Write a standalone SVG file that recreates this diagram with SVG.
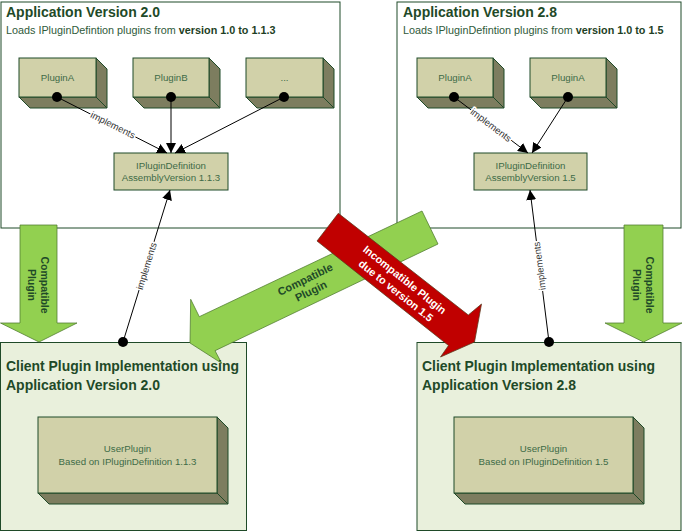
<svg xmlns="http://www.w3.org/2000/svg" width="682" height="532" viewBox="0 0 682 532">
<style>
.frame{fill:#fff;stroke:#1F4A28;stroke-width:1}
.client{fill:#E9F0DC;stroke:#1F4A28;stroke-width:1}
.front{fill:#D1D1A9;stroke:#1F4A28;stroke-width:1}
.side{fill:#7D7D5F;stroke:#1F4A28;stroke-width:1;stroke-linejoin:round}
.title{font-family:"Liberation Sans",Arial,sans-serif;font-weight:bold;font-size:14px;fill:#1F4A28}
.sub{font-family:"Liberation Sans",Arial,sans-serif;font-size:10.8px;fill:#2F5A3A}
.sub tspan.b{font-weight:bold;fill:#1E3F25}
.node{font-family:"Liberation Sans",Arial,sans-serif;font-size:9.7px;fill:#3E6B47;text-anchor:middle}
.lbl{font-family:"Liberation Sans",Arial,sans-serif;font-size:9.5px;fill:#333;text-anchor:middle;stroke:#fff;stroke-width:3;paint-order:stroke;stroke-linejoin:round}
.conn{stroke:#000;stroke-width:1;fill:none;marker-end:url(#ah)}
.dot{fill:#000}
.garrow{fill:#92D050;stroke:#4E7A2E;stroke-width:0.75}
.rarrow{fill:#C00000;stroke:#5A3A1E;stroke-width:0.75}
.gtxt{font-family:"Liberation Sans",Arial,sans-serif;font-weight:bold;font-size:10.5px;fill:#1F4A28;text-anchor:middle}
.rtxt{font-family:"Liberation Sans",Arial,sans-serif;font-weight:bold;font-size:10.8px;fill:#fff;text-anchor:middle}
</style>
<defs>
<marker id="ah" viewBox="0 0 10 10" refX="10" refY="5" markerWidth="10" markerHeight="10" orient="auto" markerUnits="userSpaceOnUse"><path d="M0,0 L10,5 L0,10 z" fill="#000"/></marker>
</defs>

<g id="app20">
<rect class="frame" x="1" y="2" width="339" height="226"/>
<text class="title" x="6" y="17">Application Version 2.0</text>
<text class="sub" x="6" y="34">Loads IPluginDefintion plugins from <tspan class="b">version 1.0 to 1.1.3</tspan></text>
</g>
<g id="app28">
<rect class="frame" x="397" y="2" width="284" height="226"/>
<text class="title" x="403" y="17">Application Version 2.8</text>
<text class="sub" x="403" y="34">Loads IPluginDefintion plugins from <tspan class="b">version 1.0 to 1.5</tspan></text>
</g>

<g id="pluginA-20">
<polygon class="side" points="96,58 107,69 107,108 96,97"/>
<polygon class="side" points="19,97 96,97 107,108 30,108"/>
<rect class="front" x="19" y="58" width="77" height="39"/>
<text class="node" x="57.5" y="80.5">PluginA</text>
</g>
<g id="pluginB-20">
<polygon class="side" points="209,58 220,69 220,108 209,97"/>
<polygon class="side" points="133,97 209,97 220,108 144,108"/>
<rect class="front" x="133" y="58" width="76" height="39"/>
<text class="node" x="171" y="80.5">PluginB</text>
</g>
<g id="pluginEtc-20">
<polygon class="side" points="323,58 334,69 334,108 323,97"/>
<polygon class="side" points="246,97 323,97 334,108 257,108"/>
<rect class="front" x="246" y="58" width="77" height="39"/>
<text class="node" x="284.5" y="80.5">...</text>
</g>
<g id="ipd-20">
<rect class="front" x="114" y="153" width="114" height="37"/>
<text class="node" x="171" y="168.5">IPluginDefinition</text>
<text class="node" x="171" y="180.5">AssemblyVersion 1.1.3</text>
</g>

<g id="pluginA1-28">
<polygon class="side" points="493,58 504,69 504,108 493,97"/>
<polygon class="side" points="417,97 493,97 504,108 428,108"/>
<rect class="front" x="417" y="58" width="76" height="39"/>
<text class="node" x="455" y="80.5">PluginA</text>
</g>
<g id="pluginA2-28">
<polygon class="side" points="606,58 617,69 617,108 606,97"/>
<polygon class="side" points="530,97 606,97 617,108 541,108"/>
<rect class="front" x="530" y="58" width="76" height="39"/>
<text class="node" x="568" y="80.5">PluginA</text>
</g>
<g id="ipd-28">
<rect class="front" x="474" y="153" width="113" height="37"/>
<text class="node" x="530.5" y="168.5">IPluginDefinition</text>
<text class="node" x="530.5" y="180.5">AssemblyVersion 1.5</text>
</g>

<g id="client20">
<rect class="client" x="0.5" y="342.5" width="246" height="188"/>
</g>
<g id="client28">
<rect class="client" x="417" y="342.5" width="264" height="188"/>
</g>

<g id="big-arrows">
<polygon class="garrow" points="20,225 57,225 57,323 77,323 39,342 0.5,323 20,323"/>
<polygon class="garrow" points="624,225 663,225 663,323 682,323 643.5,342 605,323 624,323"/>
<polygon class="garrow" points="422,211 438,244 215,350.7 221.7,363.3 190,343 190.7,299.3 199.3,316.7"/>
<polygon class="rarrow" points="338.3,213.3 468.3,315 481.5,304 474.5,342 440.5,357 448.5,345.5 317,241"/>
<g transform="translate(38.5,285) rotate(90)"><text class="gtxt" x="0" y="-2.5">Compatible</text><text class="gtxt" x="0" y="10.5">Plugin</text></g>
<g transform="translate(643.5,285) rotate(90)"><text class="gtxt" x="0" y="-2.5">Compatible</text><text class="gtxt" x="0" y="10.5">Plugin</text></g>
<g transform="translate(308,285) rotate(-26)"><text class="gtxt" style="font-size:11px" x="0" y="-2.5">Compatible</text><text class="gtxt" style="font-size:11px" x="0" y="10.5">Plugin</text></g>
<g transform="translate(400.5,285) rotate(38.5)"><text class="rtxt" x="0" y="-3">Incompatible Plugin</text><text class="rtxt" x="0" y="11">due to version 1.5</text></g>
</g>

<g id="client20-content">
<text class="title" x="6" y="371" textLength="233" lengthAdjust="spacingAndGlyphs">Client Plugin Implementation using</text>
<text class="title" x="6" y="390">Application Version 2.0</text>
<g id="userplugin-20">
<polygon class="side" points="217,417 228,428 228,504 217,493"/>
<polygon class="side" points="38,493 217,493 228,504 49,504"/>
<rect class="front" x="38" y="417" width="179" height="76"/>
<text class="node" x="127.5" y="452">UserPlugin</text>
<text class="node" x="127.5" y="464.5">Based on IPluginDefinition 1.1.3</text>
</g>
</g>
<g id="client28-content">
<text class="title" x="422" y="371" textLength="233" lengthAdjust="spacingAndGlyphs">Client Plugin Implementation using</text>
<text class="title" x="422" y="390">Application Version 2.8</text>
<g id="userplugin-28">
<polygon class="side" points="633,417 644,428 644,504 633,493"/>
<polygon class="side" points="454,493 633,493 644,504 465,504"/>
<rect class="front" x="454" y="417" width="179" height="76"/>
<text class="node" x="543.5" y="452">UserPlugin</text>
<text class="node" x="543.5" y="464.5">Based on IPluginDefinition 1.5</text>
</g>
</g>

<g id="connectors">
<line class="conn" x1="57" y1="97" x2="167" y2="153"/>
<line class="conn" x1="171" y1="97" x2="171" y2="153"/>
<line class="conn" x1="284" y1="97" x2="175" y2="153"/>
<line class="conn" x1="123" y1="342" x2="170" y2="190"/>
<line class="conn" x1="454" y1="97" x2="528" y2="153"/>
<line class="conn" x1="568" y1="97" x2="532" y2="153"/>
<line class="conn" x1="549" y1="342" x2="530" y2="190"/>
<circle class="dot" cx="57" cy="97" r="5"/>
<circle class="dot" cx="171" cy="97" r="5"/>
<circle class="dot" cx="284" cy="97" r="5"/>
<circle class="dot" cx="123" cy="342" r="5"/>
<circle class="dot" cx="454" cy="97" r="5"/>
<circle class="dot" cx="568" cy="97" r="5"/>
<circle class="dot" cx="549" cy="342" r="5"/>
<text class="lbl" transform="translate(113,125) rotate(26.8)" y="3.3">implements</text>
<text class="lbl" transform="translate(491,125) rotate(37.1)" y="3.3">implements</text>
<text class="lbl" transform="translate(146.5,266) rotate(-72.8)" y="3.3">implements</text>
<text class="lbl" transform="translate(539.5,266) rotate(-97.1)" y="3.3">implements</text>
</g>
</svg>
